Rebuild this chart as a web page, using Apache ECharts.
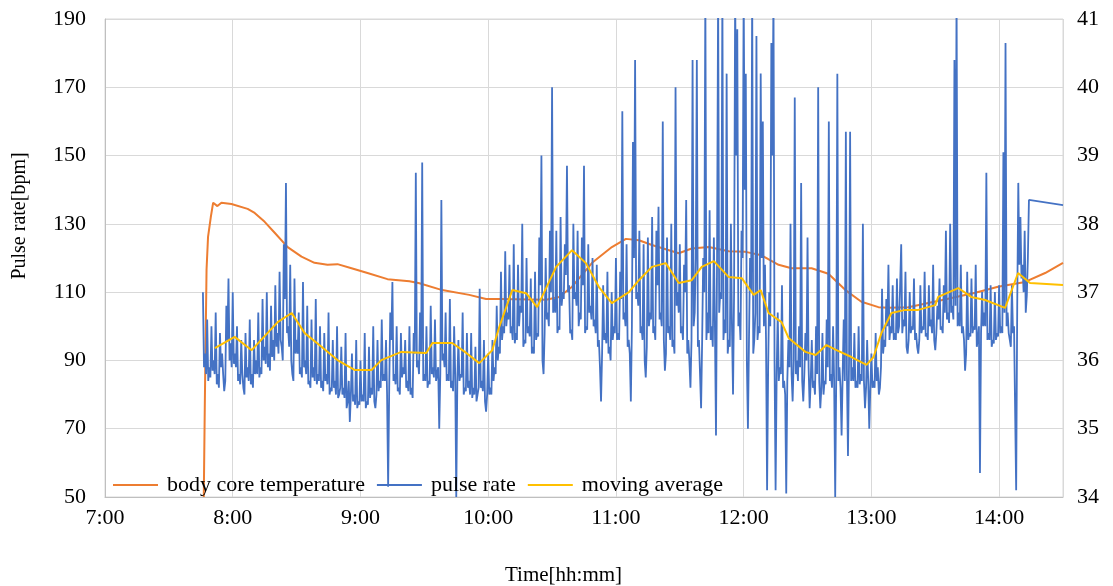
<!DOCTYPE html>
<html>
<head>
<meta charset="utf-8">
<title>Pulse rate and body core temperature</title>
<script src="https://cdn.jsdelivr.net/npm/echarts@6/dist/echarts.min.js"></script>
<style>
  html, body { margin: 0; padding: 0; background: #fff; }
  #chart { width: 1113px; height: 586px; }
</style>
</head>
<body>
<div id="chart"></div>
<script>
// ── time axis is minutes since midnight (7:00 = 420, 14:30 = 870) ──
const X_MIN = 420;
const X_MAX = 870;

// ── body core temperature [°C], right axis ──
const tempTimes = [466.4, 466.9, 467.7, 468.4, 469.7, 470.8, 471.6, 472.8, 474.7, 479.4,
  487.0, 490.3, 495.0, 499.7, 505.8, 512.3, 518.4, 524.5, 529.2, 535.8,
  543.3, 552.7, 563.0, 567.7, 578.4, 591.1, 599.0, 605.2, 627.2, 633.3,
  639.4, 648.8, 658.1, 664.7, 670.8, 676.9, 689.5, 695.6, 703.6, 713.0,
  720.9, 728.4, 736.4, 742.5, 751.9, 759.8, 767.8, 775.3, 783.3, 788.0,
  797.3, 812.8, 828.8, 839.5, 852.2, 861.6, 870];
const tempValues = [34.0, 35.4, 37.33, 37.81, 38.10, 38.31, 38.33, 38.26, 38.31, 38.29,
  38.22, 38.16, 38.03, 37.87, 37.66, 37.52, 37.43, 37.40, 37.41, 37.35,
  37.28, 37.19, 37.16, 37.13, 37.03, 36.96, 36.90, 36.90, 36.89, 36.93,
  37.08, 37.43, 37.66, 37.78, 37.76, 37.69, 37.57, 37.64, 37.66, 37.60,
  37.59, 37.54, 37.40, 37.35, 37.35, 37.27, 37.03, 36.86, 36.78, 36.77,
  36.78, 36.88, 36.99, 37.08, 37.15, 37.28, 37.43];

// ── pulse rate [bpm], readings on the minute from 7:46 ──
const pulseStart = 466;
const pulseRate = [
  110, 92, 102, 88, 100,                              // 7:46
  90, 104, 86, 98, 92, 81, 106, 114, 95, 110,         // 7:51
  92, 100, 86, 96, 82, 98, 88, 102, 86, 96,           // 8:01
  90, 104, 88, 108, 94, 110, 92, 106, 96, 112,        // 8:11
  98, 116, 94, 124, 142, 100, 118, 86, 114, 96,       // 8:21
  104, 88, 113, 90, 106, 84, 102, 88, 108, 86,        // 8:31
  100, 84, 98, 86, 104, 82, 96, 84, 100, 80,          // 8:41
  94, 82, 98, 78, 72, 92, 80, 96, 78, 90,             // 8:51
  80, 98, 78, 94, 82, 100, 76, 96, 84, 102,           // 9:01
  86, 96, 53, 104, 113, 86, 100, 82, 98, 88,          // 9:11
  96, 84, 100, 82, 98, 145, 90, 104, 148, 86,         // 9:21
  100, 84, 106, 88, 102, 86, 70, 137, 92, 104,        // 9:31
  86, 108, 84, 100, 50, 96, 86, 104, 82, 98,          // 9:41
  84, 98, 82, 94, 80, 111, 84, 96, 75, 92,            // 9:51
  82, 96, 88, 106, 94, 116, 100, 122, 104, 118,       // 10:01
  100, 124, 98, 118, 106, 130, 96, 120, 100, 114,     // 10:11
  94, 116, 98, 126, 150, 86, 120, 104, 128, 170,      // 10:21
  108, 128, 100, 132, 110, 124, 147, 112, 99, 130,    // 10:31
  110, 128, 104, 126, 147, 100, 124, 106, 120, 102,   // 10:41
  118, 96, 78, 112, 98, 116, 94, 110, 100, 120,       // 10:51
  98, 116, 163, 104, 124, 96, 78, 154, 178, 110,      // 11:01
  128, 100, 124, 85, 126, 104, 132, 100, 128, 135,    // 11:11
  104, 160, 87, 126, 100, 130, 96, 170, 110, 124,     // 11:21
  100, 118, 137, 96, 82, 178, 104, 178, 96, 76,       // 11:31
  120, 198, 104, 134, 100, 126, 68, 198, 110, 198,    // 11:41
  102, 174, 96, 130, 80, 198, 187, 104, 128, 198,     // 11:51
  174, 70, 120, 198, 96, 185, 100, 174, 160, 118,     // 12:01
  52, 110, 183, 198, 52, 104, 88, 112, 84, 51,        // 12:11
  96, 130, 78, 167, 90, 100, 142, 78, 98, 126,        // 12:21
  76, 96, 84, 100, 170, 76, 98, 84, 102, 160,         // 12:31
  86, 100, 50, 174, 88, 68, 102, 157, 62, 157,        // 12:41
  88, 98, 84, 100, 86, 130, 76, 96, 70, 92,           // 12:51
  84, 98, 88, 82, 111, 96, 108, 118, 100, 112,        // 13:01
  98, 114, 100, 124, 102, 116, 92, 110, 100, 114,     // 13:11
  98, 92, 112, 100, 116, 98, 112, 102, 118, 93,       // 13:21
  106, 114, 100, 112, 128, 104, 130, 106, 178, 198,   // 13:31
  104, 118, 100, 87, 116, 98, 114, 100, 118, 96,      // 13:41
  57, 110, 104, 145, 98, 112, 96, 110, 98, 112,       // 13:51
  100, 151, 183, 104, 96, 112, 100, 52, 142, 132,     // 14:01
  118, 128, 109, 137                                  // 14:11
];
// readings on the half minute, 7:46:30 .. 14:13:30
const pulseRateHalf = [
  88, 86, 84, 85, 87,
  86, 83, 82, 88, 86, 84, 96, 90, 88, 89,
  88, 84, 83, 86, 80, 85, 84, 83, 82, 86,
  86, 85, 86, 90, 89, 88, 87, 91, 90, 94,
  92, 96, 90, 108, 98, 94, 90, 84, 92, 92,
  86, 85, 88, 86, 83, 82, 85, 84, 83, 84,
  82, 81, 84, 83, 80, 81, 82, 80, 79, 82,
  80, 79, 76, 84, 80, 78, 77, 76, 77, 78,
  78, 76, 77, 79, 80, 78, 80, 81, 82, 84,
  84, 80, 82, 96, 84, 83, 81, 80, 85, 86,
  82, 81, 80, 79, 92, 88, 86, 92, 84, 84,
  82, 83, 86, 85, 84, 88, 86, 90, 88, 84,
  84, 82, 81, 86, 84, 84, 85, 80, 81, 82,
  80, 79, 80, 78, 82, 82, 81, 78, 80, 80,
  80, 84, 86, 90, 92, 96, 98, 100, 102, 98,
  96, 95, 96, 100, 104, 94, 95, 98, 97, 92,
  92, 96, 97, 112, 90, 98, 102, 100, 110, 104,
  104, 98, 99, 106, 108, 115, 110, 98, 96, 108,
  106, 100, 102, 112, 98, 99, 104, 102, 100, 98,
  94, 88, 92, 96, 95, 92, 90, 96, 98, 96,
  96, 108, 102, 100, 94, 92, 100, 120, 108, 106,
  98, 96, 90, 94, 100, 102, 98, 96, 112, 102,
  100, 96, 92, 98, 96, 94, 92, 106, 104, 98,
  96, 110, 92, 90, 96, 100, 120, 94, 86, 96,
  110, 96, 98, 96, 94, 100, 120, 104, 108, 96,
  98, 92, 94, 100, 110, 150, 100, 96, 120, 140,
  90, 96, 110, 92, 104, 96, 98, 120, 100, 96,
  88, 100, 150, 90, 86, 84, 86, 82, 80, 84,
  88, 86, 90, 86, 84, 88, 84, 86, 90, 88,
  84, 82, 80, 86, 84, 82, 80, 83, 88, 84,
  82, 84, 86, 84, 82, 86, 84, 86, 90, 84,
  84, 82, 82, 83, 84, 84, 82, 84, 82, 82,
  82, 84, 80, 88, 92, 94, 100, 96, 98, 96,
  96, 98, 100, 98, 100, 94, 96, 98, 99, 96,
  94, 96, 98, 99, 97, 96, 100, 98, 96, 98,
  102, 99, 98, 104, 102, 101, 104, 102, 106, 100,
  100, 98, 96, 92, 96, 97, 98, 99, 94, 100,
  98, 100, 100, 96, 96, 94, 95, 96, 97, 98,
  98, 104, 100, 98, 94, 98, 100, 106, 118, 114,
  110, 104, 120
];
// last reading carried to the end of the axis
const pulseTailTimes = [870];
const pulseTailValues = [135.5];

// ── moving average of pulse rate [bpm] ──
const maTimes = [471.6, 480.9, 488.9, 501.1, 507.7, 513.8, 521.7, 529.2, 537.2, 545.2,
  549.8, 559.2, 570.9, 573.8, 583.1, 589.7, 595.8, 601.9, 605.2, 611.3,
  617.8, 623.0, 631.9, 639.4, 645.9, 652.0, 658.1, 666.1, 670.8, 676.9,
  683.4, 689.5, 695.6, 700.3, 706.0, 713.0, 719.1, 724.7, 728.0, 731.7,
  737.8, 741.1, 749.0, 753.8, 758.9, 763.6, 770.6, 777.7, 781.0, 784.7,
  789.4, 795.9, 802.0, 810.0, 811.4, 820.8, 826.9, 833.4, 842.8, 848.9,
  854.5, 870];
const maValues = [93.6, 96.9, 93.0, 101.2, 103.9, 98.0, 94.0, 90.1, 87.2, 87.2,
  90.1, 92.5, 92.2, 95.1, 95.1, 92.2, 89.2, 93.0, 99.8, 110.6,
  109.7, 105.6, 117.4, 122.3, 118.5, 111.5, 106.8, 110.0, 113.5, 117.4,
  118.5, 112.7, 113.5, 117.4, 119.1, 114.4, 114.1, 109.2, 110.6, 103.9,
  101.2, 96.6, 92.5, 91.6, 94.5, 93.0, 91.0, 88.7, 91.0, 98.0,
  103.9, 104.8, 104.8, 106.2, 108.6, 111.2, 108.6, 107.7, 105.4, 115.6,
  112.7, 112.1];

// ── styling ──
const FONT = "'Liberation Serif', 'Times New Roman', serif";
const GRID_COLOR = "#d9d9d9";
const AXIS_COLOR = "#bfbfbf";

function zip(xs, ys) {
  return xs.map((x, i) => [x, ys[i]]);
}

// interleave minute and half-minute readings, then the tail
const pulseData = [];
pulseRate.forEach((v, i) => {
  pulseData.push([pulseStart + i, v]);
  if (i < pulseRateHalf.length) pulseData.push([pulseStart + i + 0.5, pulseRateHalf[i]]);
});
zip(pulseTailTimes, pulseTailValues).forEach((p) => pulseData.push(p));

function formatClock(v) {
  if (v % 60 !== 0) return "";
  return Math.floor(v / 60) + ":00";
}

const chart = echarts.init(document.getElementById("chart"), null, { renderer: "canvas" });

chart.setOption({
  animation: false,
  textStyle: { fontFamily: FONT },
  grid: {
    left: 105,
    right: 50,
    top: 19,
    bottom: 89,
    show: true,
    borderColor: GRID_COLOR,
    borderWidth: 1,
  },
  title: {
    text: "Time[hh:mm]",
    left: 500,
    top: 560,
    textStyle: { fontFamily: FONT, fontSize: 21, fontWeight: "normal", color: "#000" },
  },
  graphic: [
    {
      type: "text",
      x: 20,
      y: 216,
      rotation: Math.PI / 2,
      style: {
        text: "Pulse rate[bpm]",
        font: "20px " + FONT,
        fill: "#000",
        align: "center",
        verticalAlign: "middle",
      },
    },
  ],
  legend: {
    left: 108,
    top: 469,
    icon: "rect",
    itemWidth: 45,
    itemHeight: 2,
    itemGap: 12,
    textStyle: { fontFamily: FONT, fontSize: 22, color: "#000", padding: [0, 0, 0, 4] },
    data: ["body core temperature", "pulse rate", "moving average"],
  },
  xAxis: {
    type: "value",
    min: X_MIN,
    max: X_MAX,
    interval: 60,
    axisLine: { show: true, lineStyle: { color: AXIS_COLOR } },
    axisTick: { show: false },
    axisLabel: {
      formatter: formatClock,
      fontFamily: FONT,
      fontSize: 22,
      color: "#000",
      margin: 10,
    },
    splitLine: { show: true, lineStyle: { color: GRID_COLOR, width: 1 } },
  },
  yAxis: [
    {
      type: "value",
      min: 50,
      max: 190,
      interval: 20,
      axisLine: { show: true, lineStyle: { color: AXIS_COLOR } },
      axisTick: { show: false },
      axisLabel: { fontFamily: FONT, fontSize: 22, color: "#000", margin: 19 },
      splitLine: { show: true, lineStyle: { color: GRID_COLOR, width: 1 } },
    },
    {
      type: "value",
      min: 34,
      max: 41,
      interval: 1,
      position: "right",
      axisLine: { show: false },
      axisTick: { show: false },
      axisLabel: { fontFamily: FONT, fontSize: 22, color: "#000", margin: 14 },
      splitLine: { show: false },
    },
  ],
  series: [
    {
      name: "body core temperature",
      type: "line",
      yAxisIndex: 1,
      data: zip(tempTimes, tempValues),
      showSymbol: false,
      symbol: "none",
      lineStyle: { color: "#ED7D31", width: 2 },
      itemStyle: { color: "#ED7D31" },
    },
    {
      name: "pulse rate",
      type: "line",
      yAxisIndex: 0,
      data: pulseData,
      showSymbol: false,
      symbol: "none",
      clip: true,
      lineStyle: { color: "#4472C4", width: 1.8 },
      itemStyle: { color: "#4472C4" },
    },
    {
      name: "moving average",
      type: "line",
      yAxisIndex: 0,
      data: zip(maTimes, maValues),
      showSymbol: false,
      symbol: "none",
      lineStyle: { color: "#FFC000", width: 2 },
      itemStyle: { color: "#FFC000" },
    },
  ],
});
</script>
</body>
</html>
